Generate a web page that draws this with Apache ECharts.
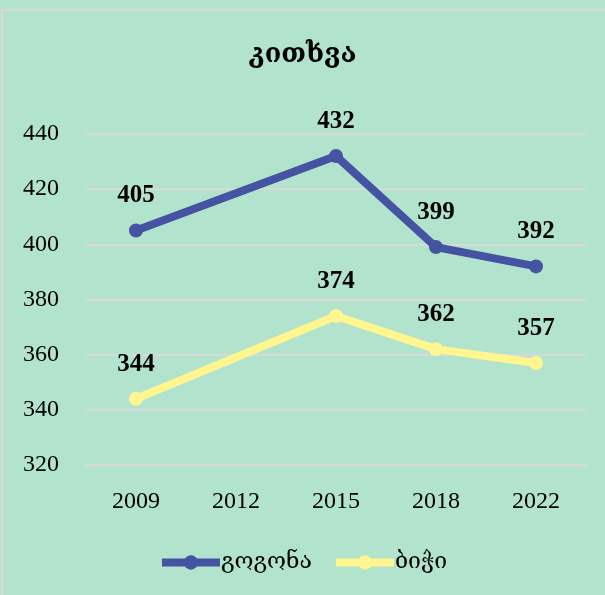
<!DOCTYPE html>
<html>
<head>
<meta charset="utf-8">
<script src="https://cdn.jsdelivr.net/npm/echarts@6/dist/echarts.min.js"></script>
<style>
  html, body { margin: 0; padding: 0; background: #b2e3cc; }
  #chart { width: 605px; height: 595px; }
</style>
</head>
<body>
<div id="chart"></div>
<script>
// data
const years = ['2009', '2012', '2015', '2018', '2022']
const girls = [405, null, 432, 399, 392]
const boys = [344, null, 374, 362, 357]
const seriesNames = ['გოგონა', 'ბიჭი']

const chart = echarts.init(document.getElementById('chart'))
const serif = '"Liberation Serif", "DejaVu Serif", serif'

const option = {
  backgroundColor: '#b2e3cc',
  graphic: [{
    type: 'rect',
    shape: { x: 2, y: 10, width: 700, height: 700 },
    style: { fill: 'none', stroke: '#d9d9d9', lineWidth: 2 }
  }],
  title: {
    text: 'კითხვა',
    left: 'center',
    top: 36,
    textStyle: { fontFamily: '"DejaVu Serif", serif', fontSize: 27, fontWeight: 'bold', color: '#000' }
  },
  legend: {
    bottom: 16,
    left: 'center',
    itemWidth: 58,
    itemHeight: 18,
    itemGap: 20,
    lineStyle: { width: 8 },
    textStyle: { fontFamily: '"DejaVu Serif", serif', fontSize: 23, color: '#000', padding: [0, 0, 0, -4] },
    data: seriesNames
  },
  grid: { left: 86, right: 19, top: 134, bottom: 130 },
  xAxis: {
    type: 'category',
    data: years,
    axisLine: { show: false },
    axisTick: { show: false },
    axisLabel: { fontFamily: serif, fontSize: 24, color: '#000', margin: 25 }
  },
  yAxis: {
    type: 'value',
    min: 320,
    max: 440,
    interval: 20,
    axisLabel: { fontFamily: serif, fontSize: 24, color: '#000', margin: 27 },
    splitLine: { lineStyle: { color: '#d9d9d9', width: 2 } }
  },
  series: [
    {
      name: seriesNames[0],
      type: 'line',
      data: girls,
      connectNulls: true,
      symbol: 'circle',
      symbolSize: 14,
      itemStyle: { color: '#4553a3' },
      lineStyle: { width: 8, color: '#4553a3' },
      label: {
        show: true, position: 'top', distance: 15,
        fontFamily: serif, fontSize: 25, fontWeight: 'bold', color: '#000'
      }
    },
    {
      name: seriesNames[1],
      type: 'line',
      data: boys,
      connectNulls: true,
      symbol: 'circle',
      symbolSize: 14,
      itemStyle: { color: '#fff68f' },
      lineStyle: { width: 8, color: '#fff68f' },
      label: {
        show: true, position: 'top', distance: 15,
        fontFamily: serif, fontSize: 25, fontWeight: 'bold', color: '#000'
      }
    }
  ]
}
chart.setOption(option)
</script>
</body>
</html>
